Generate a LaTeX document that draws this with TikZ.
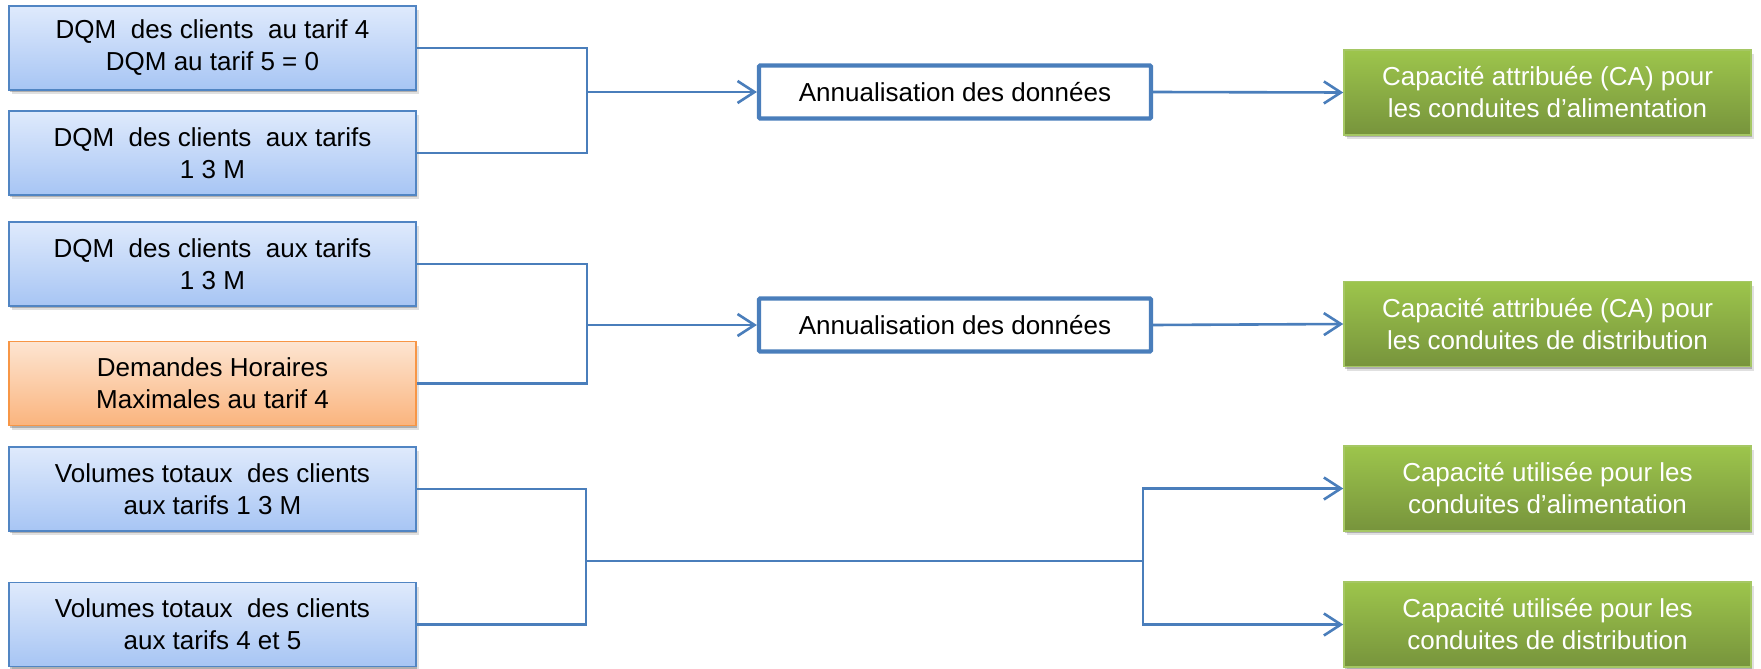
\documentclass[tikz,border=0pt]{standalone}
\usepackage{fontspec}
\setmainfont{Liberation Sans}
\usetikzlibrary{arrows.meta,shadows}

\definecolor{linkblue}{HTML}{4A7EBB}
\definecolor{bluetop}{HTML}{DFEAFC}
\definecolor{bluebot}{HTML}{A7C5F4}
\definecolor{blueedge}{HTML}{5185C3}
\definecolor{orangetop}{HTML}{FDE5D2}
\definecolor{orangebot}{HTML}{FAB47D}
\definecolor{orangeedge}{HTML}{F79646}
\definecolor{greentop}{HTML}{9DC54C}
\definecolor{greenbot}{HTML}{77943C}
\definecolor{greenedge}{HTML}{A5C764}

\tikzset{
  softshadow/.style={
    drop shadow={shadow xshift=2.5pt, shadow yshift=-4pt, opacity=0.12, fill=black},
    drop shadow={shadow xshift=1.2pt, shadow yshift=-2.2pt, opacity=0.22, fill=black}},
  basebox/.style={rectangle, align=center, inner sep=2pt,
    minimum width=407pt, minimum height=84pt,
    font=\fontsize{26}{32}\selectfont},
  inbox/.style={basebox, softshadow, draw=blueedge, line width=1.8pt,
    top color=bluetop, bottom color=bluebot, text=black},
  warmbox/.style={basebox, softshadow, draw=orangeedge, line width=1.8pt,
    top color=orangetop, bottom color=orangebot, text=black},
  outbox/.style={basebox, softshadow, draw=greenedge, line width=1.5pt,
    top color=greentop, bottom color=greenbot, text=white, minimum height=85pt},
  procbox/.style={rectangle, draw=linkblue, line width=4.2pt, fill=white,
    rounded corners=1pt, minimum width=392pt, minimum height=53pt,
    font=\fontsize{26}{32}\selectfont, align=center},
  link/.style={draw=linkblue, line width=2.6pt},
  flow/.style={link, -{Straight Barb[length=17pt,width=22pt]}},
}

\begin{document}
\begin{tikzpicture}[x=1pt, y=-1pt]
  \useasboundingbox (0,0) rectangle (1761,669);

  % inputs
  \node[inbox]   (b1) at (212.5,  48)  {DQM\ \ des clients\ \ au tarif 4\\DQM au tarif 5 = 0};
  \node[inbox]   (b2) at (212.5, 153)  {DQM\ \ des clients\ \ aux tarifs\\1 3 M};
  \node[inbox]   (b3) at (212.5, 264)  {DQM\ \ des clients\ \ aux tarifs\\1 3 M};
  \node[warmbox] (h4) at (212.5, 383.5) {Demandes Horaires\\Maximales au tarif 4};
  \node[inbox]   (v1) at (212.5, 489)  {Volumes totaux\ \ des clients\\aux tarifs 1 3 M};
  \node[inbox]   (v2) at (212.5, 624.5) {Volumes totaux\ \ des clients\\aux tarifs 4 et 5};

  % processing
  \node[procbox] (a1) at (955, 92)  {Annualisation des données};
  \node[procbox] (a2) at (955, 325) {Annualisation des données};

  % outputs
  \node[outbox] (g1) at (1547.5, 92.5)  {Capacité attribuée (CA) pour\\les conduites d’alimentation};
  \node[outbox] (g2) at (1547.5, 324)   {Capacité attribuée (CA) pour\\les conduites de distribution};
  \node[outbox] (g3) at (1547.5, 488.5) {Capacité utilisée pour les\\conduites d’alimentation};
  \node[outbox] (g4) at (1547.5, 624.5) {Capacité utilisée pour les\\conduites de distribution};

  % junction points of the brackets
  \coordinate (j1) at (587, 92);
  \coordinate (j2) at (587, 325);
  \coordinate (j3) at (586, 561);
  \coordinate (k3) at (1143, 561);

  % first group
  \draw[link] (b1.east) -| (j1) |- (b2.east);
  \draw[flow] (j1) -- (a1.west);
  \draw[flow] (a1.east) -- (g1.west);

  % second group
  \draw[link] (b3.east) -| (j2) |- (h4.east);
  \draw[flow] (j2) -- (a2.west);
  \draw[flow] (a2.east) -- (g2.west);

  % third group
  \draw[link] (v1.east) -| (j3) |- (v2.east);
  \draw[link] (j3) -- (k3);
  \draw[flow] (k3) |- (g3.west);
  \draw[flow] (k3) |- (g4.west);
\end{tikzpicture}
\end{document}
